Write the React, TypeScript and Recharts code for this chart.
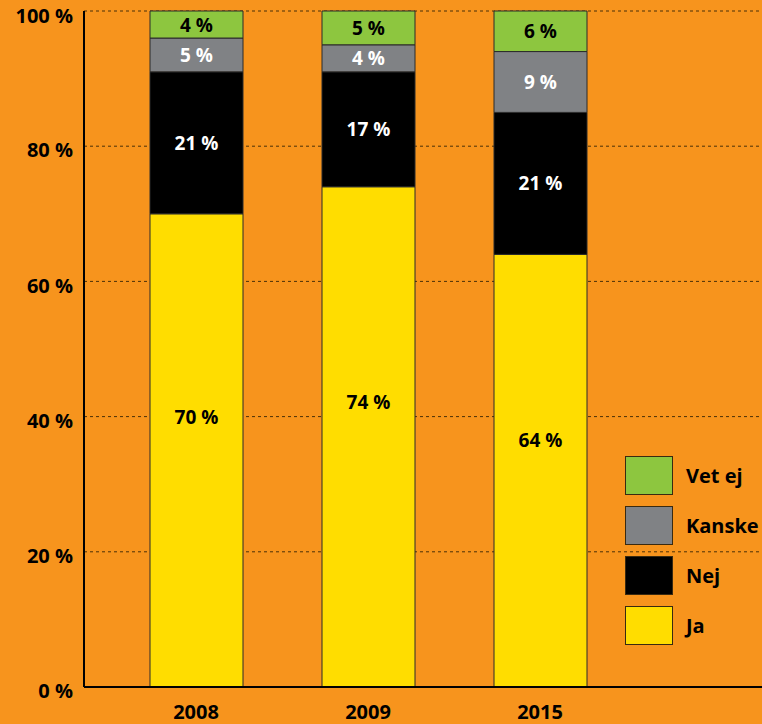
import { Bar, BarChart, CartesianGrid, Legend, XAxis, YAxis } from "recharts";

const years = ["2008", "2009", "2015"];
const ja = [70, 74, 64];
const nej = [21, 17, 21];
const kanske = [5, 4, 9];
const vetEj = [4, 5, 6];
const yTicks = [0, 20, 40, 60, 80, 100];

const data = years.map((year, i) => ({
  year,
  ja: ja[i],
  nej: nej[i],
  kanske: kanske[i],
  vetEj: vetEj[i],
}));

const font = "'Open Sans', sans-serif";

const series = [
  { key: "ja", name: "Ja", color: "#FFDD00", text: "#000000", values: ja },
  { key: "nej", name: "Nej", color: "#000000", text: "#ffffff", values: nej },
  { key: "kanske", name: "Kanske", color: "#808285", text: "#ffffff", values: kanske },
  { key: "vetEj", name: "Vet ej", color: "#8DC63F", text: "#000000", values: vetEj },
];

// label centred in the segment, the big yellow ones sit a bit higher
const makeLabel = (s, shift) => (props) => {
  const { x, y, width, height, index } = props;
  return (
    <text
      x={x + width / 2}
      y={y + height * shift}
      textAnchor="middle"
      dominantBaseline="central"
      fill={s.text}
      fontFamily={font}
      fontWeight={700}
      fontSize={19}
    >
      {s.values[index]} %
    </text>
  );
};

const renderLegend = () => (
  <div style={{ fontFamily: font }}>
    {[...series].reverse().map((s) => (
      <div
        key={s.key}
        style={{ display: "flex", alignItems: "center", height: 38, marginBottom: 12 }}
      >
        <div
          style={{
            width: 46,
            height: 37,
            background: s.color,
            border: "1px solid #3a2a10",
          }}
        />
        <span style={{ marginLeft: 13, fontSize: 20, fontWeight: 700, color: "#000" }}>
          {s.name}
        </span>
      </div>
    ))}
  </div>
);

export default function App() {
  return (
    <div style={{ position: "absolute", left: 0, top: 0, background: "#F7941D" }}>
      <BarChart
        width={762}
        height={724}
        data={data}
        margin={{ top: 11, right: 0, left: 0, bottom: 0 }}
        barSize={93}
      >
        <CartesianGrid
          vertical={false}
          stroke="#4a3008"
          strokeDasharray="3 3"
          strokeWidth={1}
        />
        <XAxis
          dataKey="year"
          height={37}
          padding={{ left: 26, right: 136 }}
          stroke="#000"
          strokeWidth={2}
          tickLine={false}
          tickMargin={12}
          tick={{ fill: "#000", fontFamily: font, fontWeight: 700, fontSize: 20 }}
        />
        <YAxis
          width={84}
          domain={[0, 100]}
          ticks={yTicks}
          stroke="#000"
          strokeWidth={2}
          tickLine={false}
          tickMargin={5}
          tickFormatter={(v) => `${v} %`}
          tick={{ fill: "#000", fontFamily: font, fontWeight: 700, fontSize: 20, dy: 4 }}
        />
        <Legend
          content={renderLegend}
          wrapperStyle={{
            position: "absolute",
            left: 625,
            top: 456,
            width: 137,
            height: 0,
            overflow: "visible",
          }}
        />
        {series.map((s) => (
          <Bar
            key={s.key}
            dataKey={s.key}
            name={s.name}
            stackId="a"
            fill={s.color}
            stroke="#2a2a2a"
            strokeWidth={1}
            isAnimationActive={false}
            label={makeLabel(s, s.key === "ja" ? 0.43 : 0.5)}
          />
        ))}
      </BarChart>
    </div>
  );
}
